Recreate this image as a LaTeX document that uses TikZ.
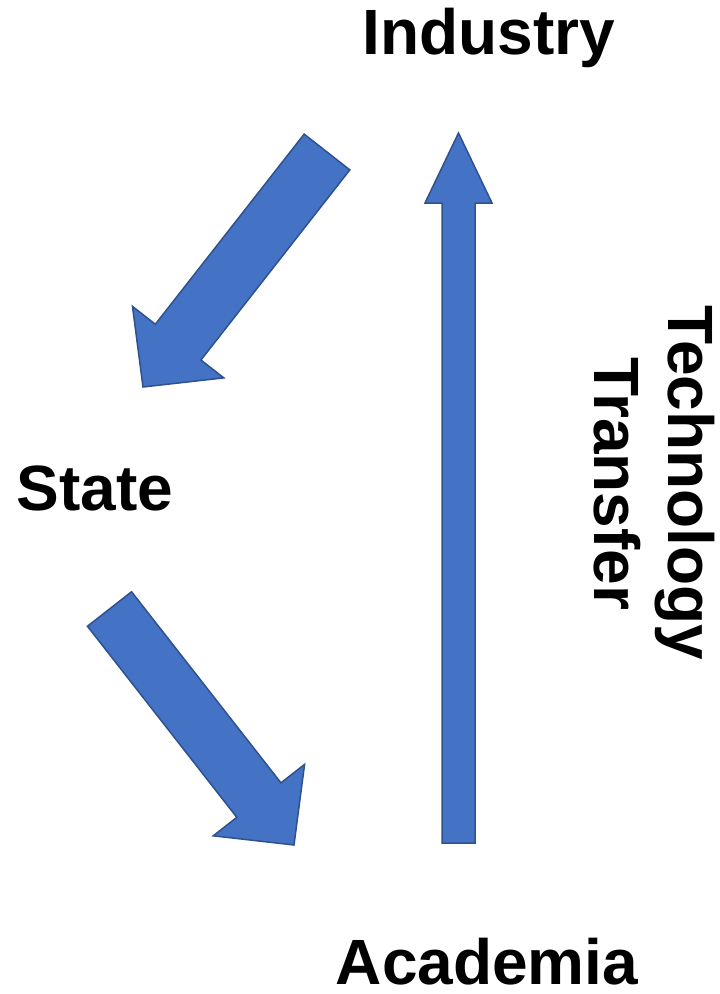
\documentclass[tikz,border=0pt]{standalone}
\usepackage{fontspec}
\setmainfont{Liberation Sans}
\usetikzlibrary{calc}

\definecolor{blue1}{HTML}{4472C4}
\definecolor{blue2}{HTML}{2F528F}
\tikzstyle{label} = [inner sep=0pt, anchor=base, font=\fontsize{64}{76}\selectfont\bfseries]
\tikzstyle{fat} = [draw=blue2, fill=blue1, line width=1.5pt, line join=miter]

% block arrow: tail, tip, shaft half width, head half width, head length
\newcommand{\blockarrow}[5]{%
	\path ($(#2)!#5!(#1)$) coordinate (#2hb);
	\draw [fat] ($(#1)!#3!90:(#2)$) -- ($(#2hb)!#3!90:(#2)$) -- ($(#2hb)!#4!90:(#2)$) -- (#2)
		-- ($(#2hb)!#4!-90:(#2)$) -- ($(#2hb)!#3!-90:(#2)$) -- ($(#1)!#3!-90:(#2)$) -- cycle;
}

\begin{document}
\begin{tikzpicture}[x=1pt, y=-1pt]
	\useasboundingbox (0,0) rectangle (720,994);

	% Labels
	\node [label] (ind) at (489,54) {Industry};
	\node [label] (sta) at (95,510) {State};
	\node [label] (aca) at (487,984) {Academia};
	\node [label, rotate=-90] (tech) at (668,483) {Technology};
	\node [label, rotate=-90] (trans) at (594,484) {Transfer};

	% Arrow ends
	\coordinate (indout) at (327,152);
	\coordinate (stain) at (143,387);
	\coordinate (staout) at (109.5,609);
	\coordinate (acain) at (294,845);
	\coordinate (acaout) at (458.5,843);
	\coordinate (indin) at (458.5,133);

	\blockarrow{indout}{stain}{29pt}{58pt}{57pt}
	\blockarrow{staout}{acain}{28pt}{58pt}{57pt}
	\blockarrow{acaout}{indin}{16.5pt}{33.5pt}{70pt}
\end{tikzpicture}
\end{document}
